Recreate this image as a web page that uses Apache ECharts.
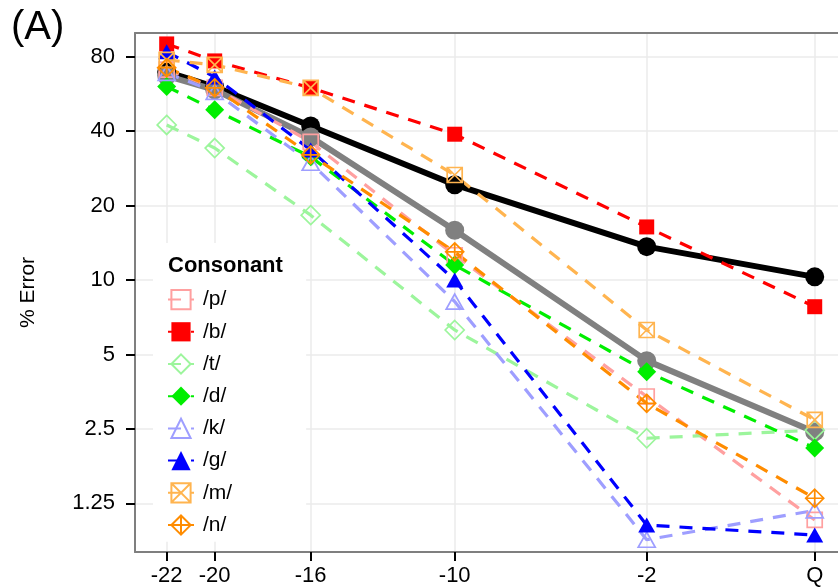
<!DOCTYPE html>
<html>
<head>
<meta charset="utf-8">
<script src="https://cdn.jsdelivr.net/npm/echarts@6/dist/echarts.min.js"></script>
<style>
  html, body { margin: 0; padding: 0; background: #fff; }
  #chart { width: 838px; height: 588px; }
</style>
</head>
<body>
<div id="chart"></div>
<script>
// SNR conditions, Q = quiet (placed at 5 on the x scale)
var snr = [-22, -20, -16, -10, -2, 5];
var xTicks = [-22, -20, -16, -10, -2, 5];
var xTickLabels = ['-22', '-20', '-16', '-10', '-2', 'Q'];
var yTicks = [1.25, 2.5, 5, 10, 20, 40, 80];

// % error per consonant
var err_p = [71.0, 59.9, 36.2, 12.6, 3.38, 1.07];
var err_b = [90.2, 77.0, 59.9, 38.9, 16.4, 7.8];
var err_t = [42.4, 34.2, 18.3, 6.28, 2.29, 2.47];
var err_d = [60.6, 48.8, 31.5, 11.5, 4.26, 2.09];
var err_k = [68.9, 57.7, 29.8, 8.18, 0.89, 1.17];
var err_g = [83.8, 66.3, 33.6, 10.0, 1.02, 0.93];
var err_m = [77.7, 74.2, 59.9, 26.6, 6.28, 2.72];
var err_n = [72.3, 59.9, 32.1, 13.0, 3.17, 1.31];
// means
var mean_black = [69.5, 60.5, 42.0, 24.3, 13.65, 10.3];
var mean_grey = [67.0, 58.8, 37.9, 15.9, 4.72, 2.43];

// log2 scale relative to 1.25
function ly(v) { return Math.log(v / 1.25) / Math.LN2; }
function pts(arr) {
  return arr.map(function (v, i) { return [snr[i], ly(v)]; });
}

var boxCross = 'path://M0,0L10,0L10,10L0,10Z M0,0L10,10 M10,0L0,10';
var diamondPlus = 'path://M5,0L10,5L5,10L0,5Z M5,0L5,10 M0,5L10,5';

function consonant(name, data, color, symbol, size, hollow) {
  return {
    name: name,
    type: 'line',
    data: pts(data),
    symbol: symbol,
    symbolSize: size,
    symbolKeepAspect: false,
    lineStyle: { color: color, width: 3.2, type: [13, 10] },
    itemStyle: hollow
      ? { color: 'rgba(255,255,255,0)', borderColor: color, borderWidth: 1.7 }
      : { color: color, borderWidth: 0 },
    emphasis: { disabled: true },
    animation: false
  };
}

function meanLine(name, data, color) {
  return {
    name: name,
    type: 'line',
    data: pts(data),
    symbol: 'circle',
    symbolSize: 19,
    lineStyle: { color: color, width: 6 },
    itemStyle: { color: color },
    emphasis: { disabled: true },
    animation: false
  };
}

var font = 'Liberation Sans';
var chart = echarts.init(document.getElementById('chart'));

var option = {
  backgroundColor: '#fff',
  animation: false,
  title: {
    text: 'Consonant',
    left: 163, top: 250,
    textStyle: { fontFamily: font, fontWeight: 'bold', fontSize: 22, color: '#000' },
    z: 10
  },
  graphic: [
    { type: 'text', left: 11, top: 8,
      style: { text: '(A)', fontFamily: font, fontSize: 40, fill: '#000' } }
  ],
  grid: { left: 135, top: 33, right: 0, height: 519 },
  xAxis: [{
    type: 'value',
    min: -23.32, max: 5.97,
    axisLine: { show: true, onZero: false, lineStyle: { color: '#7f7f7f', width: 2 } },
    axisTick: { show: true, customValues: xTicks, length: 9, lineStyle: { color: '#000', width: 2 } },
    axisLabel: {
      customValues: xTicks, margin: 13,
      fontFamily: font, fontSize: 22, color: '#000',
      formatter: function (v) { return xTickLabels[xTicks.indexOf(v)]; }
    },
    splitLine: { show: true, lineStyle: { color: '#ebebeb', width: 1.5 } }
  }, {
    type: 'value',
    position: 'top',
    min: -23.32, max: 5.97,
    axisLine: { show: true, onZero: false, lineStyle: { color: '#7f7f7f', width: 2 } },
    axisTick: { show: false },
    axisLabel: { show: false },
    splitLine: { show: false }
  }],
  yAxis: {
    type: 'value',
    min: -0.655, max: 6.32,
    name: '% Error',
    nameLocation: 'middle',
    nameGap: 96,
    nameTextStyle: { fontFamily: font, fontSize: 21, color: '#000' },
    axisLine: { show: true, onZero: false, lineStyle: { color: '#7f7f7f', width: 2 } },
    axisTick: { show: true, customValues: yTicks.map(ly), length: 9, lineStyle: { color: '#000', width: 2 } },
    axisLabel: {
      customValues: yTicks.map(ly), margin: 20,
      fontFamily: font, fontSize: 22, color: '#000',
      formatter: function (v) {
        var val = 1.25 * Math.pow(2, v);
        return String(Math.round(val * 100) / 100);
      }
    },
    splitLine: { show: true, lineStyle: { color: '#ebebeb', width: 1.5 } }
  },
  legend: {
    data: ['/p/', '/b/', '/t/', '/d/', '/k/', '/g/', '/m/', '/n/'],
    orient: 'vertical',
    left: 153, top: 243,
    padding: [46, 74, 6, 14],
    backgroundColor: '#fff',
    itemWidth: 26, itemHeight: 24, itemGap: 11.1,
    textStyle: { fontFamily: font, fontSize: 21, color: '#000', padding: [0, 0, 0, 4] },
    selectedMode: false
  },
  series: [
    meanLine('black', mean_black, '#000000'),
    meanLine('grey', mean_grey, '#808080'),
    consonant('/p/', err_p, '#FFA0A0', 'rect', 15, true),
    consonant('/b/', err_b, '#FF0000', 'rect', 15, false),
    consonant('/t/', err_t, '#9CF59C', 'diamond', 19, true),
    consonant('/d/', err_d, '#00EE00', 'diamond', 19, false),
    consonant('/k/', err_k, '#9E9EFF', 'triangle', [17, 15], true),
    consonant('/g/', err_g, '#0000FF', 'triangle', [17, 15], false),
    consonant('/m/', err_m, '#FFB44F', boxCross, 15, true),
    consonant('/n/', err_n, '#FF8C00', diamondPlus, 18, true)
  ]
};

chart.setOption(option);
</script>
</body>
</html>
